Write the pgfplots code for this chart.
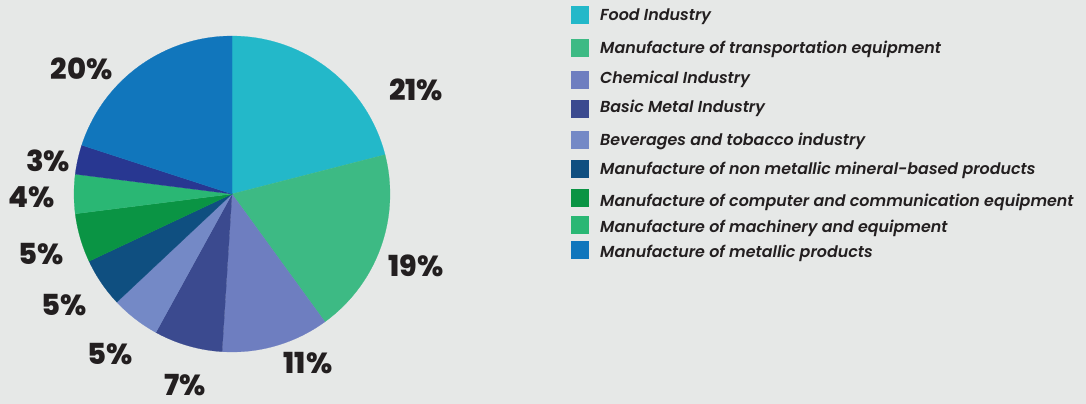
\documentclass[border=0pt]{standalone}
\usepackage{fontspec}
\usepackage{pgfplots}
\usepackage{pgfplotstable}
\pgfplotsset{compat=1.18}
\newfontfamily\popxb{Poppins ExtraBold}
\newfontfamily\popmi{Poppins SemiBold Italic}

\definecolor{bg}{HTML}{E6E8E7}
\definecolor{txt}{HTML}{231F20}
\definecolor{cFood}{HTML}{23B8C9}
\definecolor{cTrans}{HTML}{3DBA84}
\definecolor{cChem}{HTML}{6E7EC0}
\definecolor{cMetal}{HTML}{3B4A8F}
\definecolor{cBev}{HTML}{7489C6}
\definecolor{cNonmet}{HTML}{0F4F80}
\definecolor{cComp}{HTML}{0A9444}
\definecolor{cMach}{HTML}{2AB774}
\definecolor{cOther}{HTML}{283791}
\definecolor{cMetprod}{HTML}{1176BC}

% share of each industry, clockwise from 12 o'clock
\pgfplotstableread{
pct col
21 cFood
19 cTrans
11 cChem
7  cMetal
5  cBev
5  cNonmet
5  cComp
4  cMach
3  cOther
20 cMetprod
}\pies

\tikzset{
  pctlab/.style={inner sep=0pt, text=txt, font=\popxb\fontsize{29bp}{29bp}\selectfont},
  leglab/.style={inner sep=0pt, anchor=base west, text=txt, font=\popmi\fontsize{15.9bp}{20bp}\selectfont},
}

\begin{document}
\begin{tikzpicture}
\begin{axis}[
  scale only axis, width=1086bp, height=404bp,
  xmin=0, xmax=1086, ymin=0, ymax=404, y dir=reverse,
  axis lines=none, xtick=\empty, ytick=\empty,
  clip=false,
  axis background/.style={fill=bg},
]
\def\cum{0}
\pgfplotsforeachungrouped \i in {0,...,9}{%
  \pgfplotstablegetelem{\i}{pct}\of\pies \let\pv\pgfplotsretval
  \pgfplotstablegetelem{\i}{col}\of\pies \let\pc\pgfplotsretval
  \pgfmathsetmacro\aS{90-3.6*\cum}
  \pgfmathsetmacro\aE{90-3.6*(\cum+\pv)}
  \pgfmathsetmacro\cum{\cum+\pv}
  \edef\tmp{\noexpand\addplot[fill=\pc, draw=\pc, line width=0.2pt, domain=\aE:\aS, samples=60]
    ({232+158*cos(x)},{194-158*sin(x)}) -- (axis cs:232,194) -- cycle;}
  \tmp
}

% percentage labels
\node[pctlab] at (axis cs:416,90)    {21\%};
\node[pctlab] at (axis cs:416,265.5) {19\%};
\node[pctlab] at (axis cs:308,363)   {11\%};
\node[pctlab] at (axis cs:185,385.5) {7\%};
\node[pctlab] at (axis cs:110,354)   {5\%};
\node[pctlab] at (axis cs:64,304.7)  {5\%};
\node[pctlab] at (axis cs:41,253.7)  {5\%};
\node[pctlab] at (axis cs:31.5,197.5){4\%};
\node[pctlab] at (axis cs:48,161)    {3\%};
\node[pctlab] at (axis cs:81.7,69)   {20\%};

% legend
\fill[cFood]    (axis cs:571,6.5)   rectangle (axis cs:589,24.5);
\fill[cTrans]   (axis cs:571,39.5)  rectangle (axis cs:589,57.5);
\fill[cChem]    (axis cs:571,70.5)  rectangle (axis cs:589,88.5);
\fill[cMetal]   (axis cs:571,99.5)  rectangle (axis cs:589,117.5);
\fill[cBev]     (axis cs:571,131)   rectangle (axis cs:589,149);
\fill[cNonmet]  (axis cs:571,160)   rectangle (axis cs:589,178);
\fill[cComp]    (axis cs:571,189)   rectangle (axis cs:589,207);
\fill[cMach]    (axis cs:571,215.5) rectangle (axis cs:589,233.5);
\fill[cMetprod] (axis cs:571,240.5) rectangle (axis cs:589,258.5);

\node[leglab] at (axis cs:600,20.7)  {Food Industry};
\node[leglab] at (axis cs:600,53.3)  {Manufacture of transportation equipment};
\node[leglab] at (axis cs:600,83.3)  {Chemical Industry};
\node[leglab] at (axis cs:600,112.7) {Basic Metal Industry};
\node[leglab] at (axis cs:600,145)   {Beverages and tobacco industry};
\node[leglab] at (axis cs:600,174)   {Manufacture of non metallic mineral-based products};
\node[leglab] at (axis cs:600,206.7) {Manufacture of computer and communication equipment};
\node[leglab] at (axis cs:600,232.7) {Manufacture of machinery and equipment};
\node[leglab] at (axis cs:600,257.7) {Manufacture of metallic products};
\end{axis}
\end{tikzpicture}
\end{document}
